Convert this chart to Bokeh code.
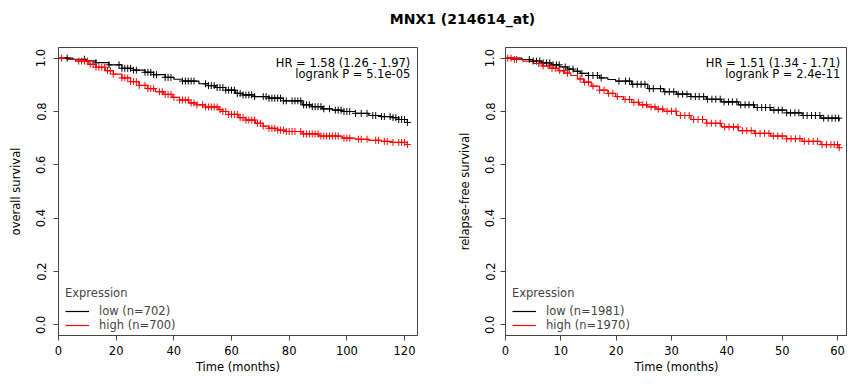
import numpy as np
from bokeh.plotting import figure
from bokeh.models import Legend, LegendItem, Label, FixedTicker, Range1d
from bokeh.layouts import column, row
from bokeh.embed import file_html
from bokeh.resources import INLINE

# ---------------- data ----------------
title_text = "MNX1 (214614_at)"

y_ticks = [0.0, 0.2, 0.4, 0.6, 0.8, 1.0]
y_tick_labels = ["0.0", "0.2", "0.4", "0.6", "0.8", "1.0"]

# Overall survival
os_x_ticks = [0, 20, 40, 60, 80, 100, 120]
os_low_t = [0, 5, 9.4, 13, 17.5, 22, 26, 30, 33, 37, 40, 43, 48.7, 52, 54.5, 58, 61.4, 64, 68, 73,
            78, 84.5, 88, 91.5, 95, 98.4, 103, 107.6, 112, 115.7, 118, 121]
os_low_s = [1.0, 0.996, 0.99, 0.983, 0.975, 0.962, 0.955, 0.947, 0.938, 0.928, 0.921, 0.914, 0.904,
            0.897, 0.89, 0.88, 0.868, 0.862, 0.856, 0.85, 0.84, 0.825, 0.818, 0.81, 0.805, 0.80,
            0.793, 0.785, 0.781, 0.777, 0.77, 0.759]
os_high_t = [0, 3, 5.9, 10.5, 13, 16.3, 19, 22, 25, 27.9, 31, 33.6, 36.5, 39.4, 42, 45.2, 48, 51,
             55.6, 57, 59, 62.5, 65, 68.3, 71, 73, 76, 78.7, 84.5, 90.3, 98.4, 103, 107.6, 112,
             115.7, 121]
os_high_s = [1.0, 0.995, 0.989, 0.977, 0.966, 0.953, 0.94, 0.926, 0.912, 0.898, 0.886, 0.874, 0.864,
             0.853, 0.843, 0.832, 0.825, 0.817, 0.807, 0.80, 0.789, 0.777, 0.768, 0.756, 0.745,
             0.737, 0.73, 0.725, 0.716, 0.708, 0.70, 0.696, 0.692, 0.688, 0.684, 0.676]
os_low_cens = [3, 9, 13, 17.5, 21, 22, 23, 24, 25, 26, 27, 30, 31, 32, 33, 34, 37, 38, 39, 43, 44,
               45, 46, 47, 51, 52, 53, 54, 55, 56, 57, 58, 59, 60, 61, 62, 63, 64, 65, 66, 67, 68,
               71, 72, 73, 74, 75, 76, 77, 78, 79, 81, 82, 83, 84, 85, 86, 87, 88, 89, 90, 91, 92,
               94, 96, 97, 98, 99, 100, 101, 103, 105, 107, 109, 110, 112, 113, 115, 116, 117, 118,
               119, 120, 121]
os_high_cens = [1, 7, 8, 9, 10, 11, 12, 13, 14, 15, 16, 17, 18, 19, 22, 23, 24, 25, 26, 27, 28, 30,
                31, 32, 33, 35, 36, 37, 38, 39, 40, 42, 43, 44, 45, 46, 47, 48, 50, 51, 52, 53, 54,
                55, 56, 57, 58, 59, 60, 61, 62, 63, 64, 65, 66, 67, 68, 69, 70, 71, 73, 74, 75, 76,
                77, 78, 79, 80, 81, 82, 84, 85, 86, 87, 88, 89, 90, 91, 92, 93, 94, 95, 96, 97, 99,
                100, 101, 104, 105, 107, 110, 111, 113, 114, 116, 118, 119, 120, 121]

# Relapse-free survival
rfs_x_ticks = [0, 10, 20, 30, 40, 50, 60]
rfs_low_t = [0, 3, 4.9, 6.5, 8.3, 9.8, 11.2, 12.3, 13.5, 15, 17, 18.5, 19.9, 22.8, 25.7, 28.6, 30.9,
             33.5, 36.3, 39, 42.1, 45, 47.9, 50.8, 53.6, 57, 60.3]
rfs_low_s = [1.0, 0.995, 0.989, 0.982, 0.975, 0.967, 0.959, 0.951, 0.943, 0.935, 0.926, 0.92, 0.914,
             0.902, 0.886, 0.874, 0.865, 0.856, 0.846, 0.836, 0.825, 0.815, 0.805, 0.795, 0.785,
             0.775, 0.765]
rfs_high_t = [0, 1.5, 3.1, 5, 6.6, 8, 9.5, 10.7, 11.8, 13, 14.1, 15.5, 17, 18.5, 19.9, 21.3, 22.8,
              24.2, 25.7, 27.2, 28.6, 30.9, 33.5, 36.3, 39, 42.1, 45, 47.9, 50.8, 53.6, 57, 60.3]
rfs_high_s = [1.0, 0.995, 0.989, 0.98, 0.971, 0.962, 0.953, 0.944, 0.935, 0.922, 0.91, 0.895, 0.88,
              0.868, 0.856, 0.845, 0.834, 0.825, 0.817, 0.809, 0.801, 0.785, 0.77, 0.756, 0.742,
              0.728, 0.718, 0.708, 0.698, 0.688, 0.676, 0.664]
rfs_low_cens = [4.3, 5, 5.6, 6.2, 6.8, 7.4, 8, 8.6, 9.2, 9.7, 10.8, 11.5, 12.2, 13, 13.8, 15, 15.8,
                16.6, 17.3, 20.5, 21.7, 22.4, 23, 23.8, 24.5, 25.2, 26, 26.7, 28, 28.8, 29.6, 30.4,
                31.2, 32, 32.8, 33.5, 34.3, 35, 35.8, 36.5, 37.3, 38, 38.8, 39.5, 40.3, 41, 41.8,
                42.5, 43.3, 44, 44.8, 45.5, 46.3, 47, 47.8, 48.5, 49.3, 50, 50.8, 51.5, 52.3, 53,
                53.8, 54.5, 55.3, 56, 56.8, 57.5, 58.3, 59, 59.6, 60.2]
rfs_high_cens = [0.4, 1, 1.6, 2, 6, 6.8, 7.7, 8.4, 9, 9.8, 10.5, 11.2, 13.5, 14.3, 15, 15.8, 17,
                 17.8, 18.6, 19.4, 20.2, 21.6, 22.4, 23.2, 24, 24.8, 25.5, 26.3, 27, 27.6, 28.4,
                 29.2, 30, 30.8, 31.6, 32.4, 33.2, 34, 34.8, 35.6, 36.4, 37.2, 38, 38.8, 39.6, 40.4,
                 41.2, 42, 42.8, 43.6, 44.4, 45.2, 46, 46.8, 47.6, 48.4, 49.2, 50, 50.8, 51.6,
                 52.4, 53.2, 54, 54.8, 55.6, 56.4, 57.2, 58, 58.8, 59.4, 60, 60.3]

os_labels = ["low (n=702)", "high (n=700)"]
rfs_labels = ["low (n=1981)", "high (n=1970)"]
os_stats = ["HR = 1.58 (1.26 - 1.97)", "logrank P = 5.1e-05"]
rfs_stats = ["HR = 1.51 (1.34 - 1.71)", "logrank P = 2.4e-11"]

# ---------------- styling ----------------
FONT = "DejaVu Sans"
FS = "11.5px"
BOX = "#444444"
LOW_C = "#000000"
HIGH_C = "#FF0000"
TITLE_H = 38
PANEL_H = 376 - TITLE_H


def step_value(t, s, ct):
    t = np.asarray(t)
    s = np.asarray(s)
    idx = np.searchsorted(t, np.asarray(ct), side="right") - 1
    return s[idx]


def panel(width, mbl, mbr, xmax, xticks, ylabel, ystd, ylstd, low_t, low_s, high_t, high_s,
          low_c, high_c, labels, stats, stat_x):
    p = figure(width=width, height=PANEL_H, x_range=Range1d(0, xmax),
               y_range=Range1d(-0.04, 1.04),
               output_backend="svg", toolbar_location=None,
               min_border_left=mbl, min_border_right=mbr, min_border_top=9, min_border_bottom=38)
    p.grid.visible = False
    p.outline_line_color = BOX
    p.outline_line_width = 1
    p.background_fill_color = "white"
    p.border_fill_color = "white"

    for ax in (p.xaxis[0], p.yaxis[0]):
        ax.axis_line_color = BOX
        ax.major_tick_line_color = BOX
        ax.minor_tick_line_color = None
        ax.major_tick_in = 0
        ax.major_tick_out = 5
        ax.major_label_text_font = FONT
        ax.major_label_text_font_size = FS
        ax.major_label_text_color = "#000000"
        ax.axis_label_text_font = FONT
        ax.axis_label_text_font_size = FS
        ax.axis_label_text_font_style = "normal"
        ax.axis_label_text_color = "#000000"

    p.xaxis.ticker = FixedTicker(ticks=xticks)
    p.xaxis.major_label_standoff = 5
    p.xaxis.axis_label = "Time (months)"
    p.xaxis.axis_label_standoff = 2

    p.yaxis.ticker = FixedTicker(ticks=y_ticks)
    p.yaxis.major_label_overrides = {v: l for v, l in zip(y_ticks, y_tick_labels)}
    p.yaxis.major_label_orientation = "vertical"
    p.yaxis.major_label_standoff = ystd
    p.yaxis.axis_label = ylabel
    p.yaxis.axis_label_standoff = ylstd

    r_low = p.step(low_t, low_s, mode="after", line_color=LOW_C, line_width=1.2)
    r_high = p.step(high_t, high_s, mode="after", line_color=HIGH_C, line_width=1.2)
    p.scatter(low_c, step_value(low_t, low_s, low_c), marker="cross", size=7,
              line_color=LOW_C, line_width=1)
    p.scatter(high_c, step_value(high_t, high_s, high_c), marker="cross", size=7,
              line_color=HIGH_C, line_width=1)

    legend = Legend(items=[LegendItem(label=labels[0], renderers=[r_low]),
                           LegendItem(label=labels[1], renderers=[r_high])],
                    location=(7, 3), title="Expression",
                    title_text_font=FONT, title_text_font_size=FS, title_text_font_style="normal",
                    title_standoff=4,
                    label_text_font=FONT, label_text_font_size=FS,
                    glyph_width=24, glyph_height=12, label_height=12, label_standoff=10,
                    spacing=0, padding=0, margin=0,
                    border_line_color=None, background_fill_alpha=0)
    p.add_layout(legend)

    for txt, yy in zip(stats, [0.982, 0.94]):
        p.add_layout(Label(x=stat_x, y=yy, text=txt, text_align="right", text_baseline="middle",
                           text_font=FONT, text_font_size=FS, text_color="#000000"))
    return p


p1 = panel(450, 58, 33, 124.5, os_x_ticks, "overall survival", 8, 11,
           os_low_t, os_low_s, os_high_t, os_high_s, os_low_cens, os_high_cens,
           os_labels, os_stats, 122.0)
p2 = panel(397, 55, 0, 61.8, rfs_x_ticks, "relapse-free survival", 6, 11,
           rfs_low_t, rfs_low_s, rfs_high_t, rfs_high_s, rfs_low_cens, rfs_high_cens,
           rfs_labels, rfs_stats, 60.5)

pt = figure(width=847, height=TITLE_H, x_range=Range1d(0, 847), y_range=Range1d(0, TITLE_H),
            output_backend="svg", toolbar_location=None, min_border=0,
            x_axis_location=None, y_axis_location=None)
pt.grid.visible = False
pt.outline_line_color = None
pt.add_layout(Label(x=462, y=TITLE_H - 18, text=title_text, text_align="center",
                    text_baseline="middle",
                    text_font=FONT, text_font_size="14px", text_font_style="bold",
                    text_color="#000000"))

layout = column(pt, row(p1, p2))
open("out.html", "w").write(file_html(layout, INLINE))
